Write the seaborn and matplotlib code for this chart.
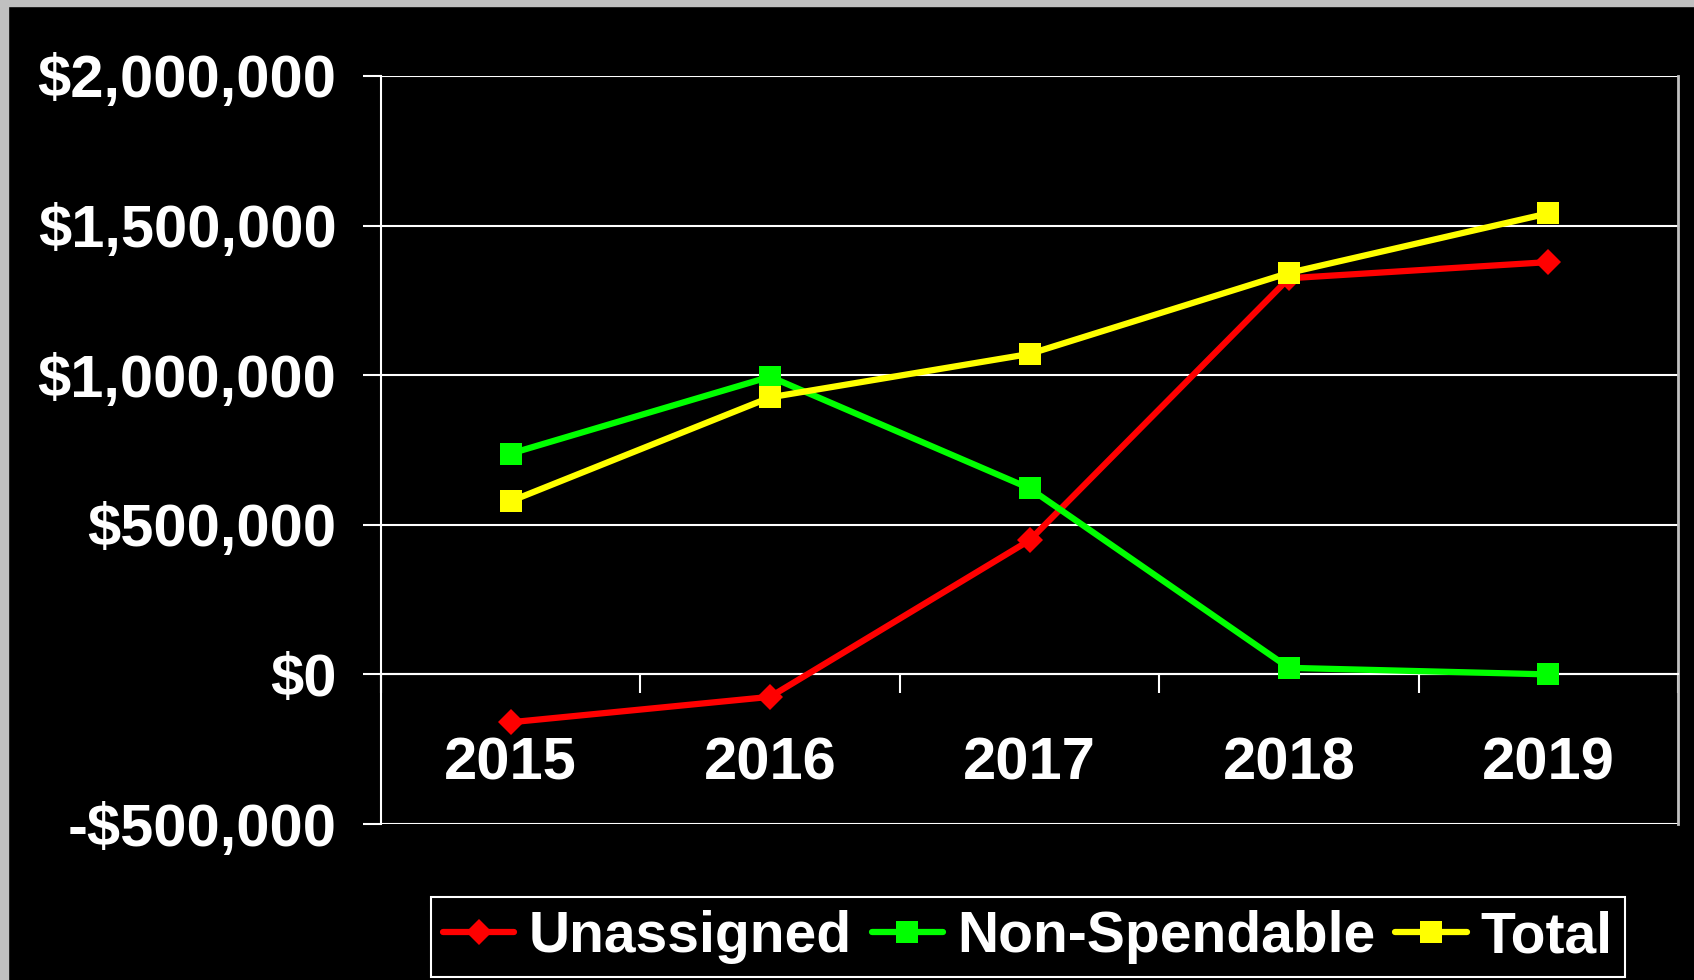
import matplotlib
matplotlib.use("Agg")
import matplotlib.pyplot as plt
import matplotlib.ticker as mticker
from matplotlib.patches import Rectangle
import numpy as np
import pandas as pd
import seaborn as sns

# Chart data
years = ["2015", "2016", "2017", "2018", "2019"]
unassigned = [-160000, -75000, 448000, 1324000, 1378000]
non_spendable = [738000, 995000, 622000, 22000, 0]
total = [579000, 926000, 1071000, 1342000, 1541000]
y_ticks = [-500000, 0, 500000, 1000000, 1500000, 2000000]

series_names = ["Unassigned", "Non-Spendable", "Total"]
series_values = [unassigned, non_spendable, total]

# styles per series
styles = {
    "Unassigned": dict(color="#ff0000", marker="D", markersize=13.5),
    "Non-Spendable": dict(color="#00ff00", marker="s", markersize=16),
    "Total": dict(color="#ffff00", marker="s", markersize=16),
}

rows = []
for name, vals in zip(series_names, series_values):
    for i, (yr, v) in enumerate(zip(years, vals)):
        rows.append({"series": name, "year": yr, "pos": i, "value": v})
df = pd.DataFrame(rows)

sns.set_style("dark")
plt.rcParams["font.family"] = ["Liberation Sans", "DejaVu Sans"]
plt.rcParams["font.weight"] = "bold"

fig = plt.figure(figsize=(16.94, 9.8), dpi=100)
fig.patch.set_facecolor("black")
ax = fig.add_axes([381 / 1694, 1 - 824 / 980, (1678 - 381) / 1694, (824 - 76) / 980])
ax.set_facecolor("black")

# gray frame at top and left
fig.add_artist(Rectangle((0, 1 - 6 / 980), 1, 6 / 980, transform=fig.transFigure,
                         color="#c0c0c0", zorder=0))
fig.add_artist(Rectangle((0, 0), 8 / 1694, 1, transform=fig.transFigure,
                         color="#c0c0c0", zorder=0))

for name in series_names:
    st = styles[name]
    sns.lineplot(data=df[df["series"] == name], x="pos", y="value", ax=ax,
                 color=st["color"], marker=st["marker"], markersize=st["markersize"],
                 markeredgewidth=0, markerfacecolor=st["color"], lw=4.5,
                 errorbar=None, label=name, legend=False, zorder=3)

ax.set_xlim(-0.5, len(years) - 0.5)
ax.set_ylim(y_ticks[0], y_ticks[-1])
ax.set_xlabel("")
ax.set_ylabel("")

ax.set_yticks(y_ticks)
ax.yaxis.set_major_formatter(mticker.FuncFormatter(
    lambda v, p: f"-${abs(v):,.0f}" if v < 0 else f"${v:,.0f}"))
ax.yaxis.grid(True, color="white", linewidth=1.5)
ax.xaxis.grid(False)
ax.set_axisbelow(True)

# category boundaries as major ticks, labels on minor ticks
ax.set_xticks(np.arange(-0.5, len(years), 1.0))
ax.set_xticklabels([])
ax.set_xticks(np.arange(len(years)), minor=True)
ax.set_xticklabels(years, minor=True)

ax.tick_params(axis="x", which="major", direction="out", length=13.5, width=1.5,
               color="white")
ax.tick_params(axis="x", which="minor", length=0, pad=45, labelsize=43,
               labelcolor="white")
ax.tick_params(axis="y", direction="out", length=13, width=1.5, color="white",
               pad=19, labelsize=43, labelcolor="white")
ax.tick_params(left=True, bottom=True)

for lab in ax.get_yticklabels() + ax.get_xticklabels(minor=True):
    lab.set_fontweight("bold")

ax.spines["top"].set_visible(False)
ax.spines["right"].set_color("#c0c0c0")
ax.spines["right"].set_linewidth(2)
ax.spines["left"].set_color("white")
ax.spines["left"].set_linewidth(1.5)
ax.spines["bottom"].set_position(("data", 0))
ax.spines["bottom"].set_color("white")
ax.spines["bottom"].set_linewidth(1.5)

handles = ax.get_lines()[:3]
leg = fig.legend(handles, series_names, loc="center",
                 bbox_to_anchor=(1028 / 1694, 1 - 937 / 980), ncol=3,
                 frameon=True, fancybox=False, edgecolor="white",
                 facecolor="black", framealpha=1, fontsize=41,
                 labelcolor="white", handlelength=1.25, handletextpad=0.25,
                 columnspacing=0.35, borderpad=0.22, borderaxespad=0)
leg.get_frame().set_linewidth(1.5)
for t in leg.get_texts():
    t.set_fontweight("bold")

fig.savefig("out.png", dpi=100, facecolor=fig.get_facecolor())
